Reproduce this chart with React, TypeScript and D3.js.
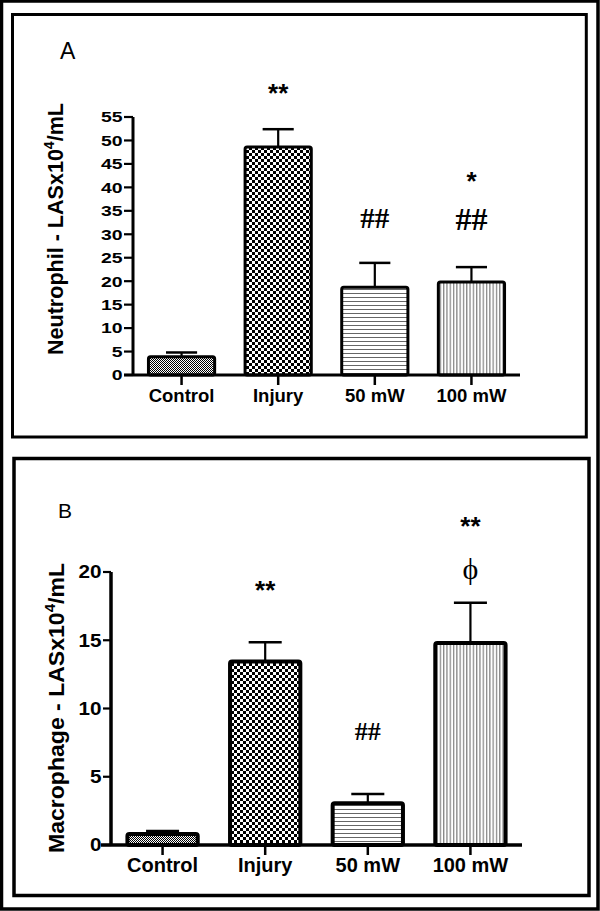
import React from "react";
import * as d3 from "d3";

const categories = ["Control", "Injury", "50 mW", "100 mW"];
const neutrophilMean = [3.9, 48.6, 18.7, 19.8];
const neutrophilSem = [0.9, 3.8, 5.2, 3.2];
const macrophageMean = [0.8, 13.45, 3.05, 14.8];
const macrophageSem = [0.22, 1.4, 0.68, 2.95];
const neutrophilTicks = [0, 5, 10, 15, 20, 25, 30, 35, 40, 45, 50, 55];
const macrophageTicks = [0, 5, 10, 15, 20];
const neutrophilStars = ["", "**", "", "*"];
const neutrophilHashes = ["", "", "##", "##"];
const macrophageStars = ["", "**", "", "**"];
const macrophageHashes = ["", "", "##", ""];
const macrophagePhi = ["", "", "", "\u03D5"];

const patternIds = ["pCtrl", "pInj", "pH", "pV"];

type PanelProps = {
  letter: string;
  letterX: number;
  letterY: number;
  letterSize: number;
  title: string;
  titleX: number;
  titleY: number;
  titleLen: number;
  means: number[];
  sems: number[];
  ticks: number[];
  yMax: number;
  x0: number;
  x1: number;
  yTop: number;
  yBottom: number;
  axisLeftExt: number;
  tickLen: number;
  tickFont: number;
  tickDigitW: number;
  catFont: number;
  catBaseline: number;
  barStroke: number;
  axisStroke: number;
  annotations: { texts: string[]; y: number; font: string; size: number; weight: string }[];
};

function Panel(p: PanelProps) {
  const x = d3.scaleBand<string>().domain(categories).range([p.x0, p.x1]).paddingInner(0.315).paddingOuter(0.16);
  const y = d3.scaleLinear().domain([0, p.yMax]).range([p.yBottom, p.yTop]);
  const bw = x.bandwidth();
  const capW = bw * 0.47;
  return (
    <g>
      <text x={p.letterX} y={p.letterY} fontFamily="Arial, 'Liberation Sans', sans-serif" fontSize={p.letterSize}>
        {p.letter}
      </text>
      <text
        transform={`translate(${p.titleX},${p.titleY}) rotate(-90)`}
        textAnchor="middle"
        fontFamily="Arial, 'Liberation Sans', sans-serif"
        fontWeight="bold"
        fontSize={21.5}
        textLength={p.titleLen}
        lengthAdjust="spacingAndGlyphs"
      >
        {p.title}
        <tspan fontSize={14} dy={-9}>4</tspan>
        <tspan dy={9}>/mL</tspan>
      </text>
      {categories.map((c, i) => {
        const bx = x(c)!;
        const top = y(p.means[i]);
        const et = y(p.means[i] + p.sems[i]);
        const cx = bx + bw / 2;
        return (
          <g key={c}>
            <line x1={cx} x2={cx} y1={top} y2={et} stroke="#000" strokeWidth={2.2} />
            <line x1={cx - capW / 2} x2={cx + capW / 2} y1={et} y2={et} stroke="#000" strokeWidth={2.5} />
            <rect
              x={bx}
              y={top}
              width={bw}
              height={p.yBottom - top}
              fill={`url(#${patternIds[i]})`}
              stroke="#000"
              strokeWidth={p.barStroke}
              rx={2}
            />
          </g>
        );
      })}
      <line x1={p.x0} x2={p.x0} y1={p.yTop} y2={p.yBottom} stroke="#000" strokeWidth={p.axisStroke} />
      {p.ticks.map((t) => (
        <g key={t}>
          <line x1={p.x0 - p.tickLen} x2={p.x0} y1={y(t)} y2={y(t)} stroke="#000" strokeWidth={2.2} />
          <text
            x={p.x0 - p.tickLen - 1.5}
            y={y(t)}
            dy="0.36em"
            textAnchor="end"
            fontFamily="Arial, 'Liberation Sans', sans-serif"
            fontWeight="bold"
            fontSize={p.tickFont}
            textLength={String(t).length * p.tickDigitW}
            lengthAdjust="spacingAndGlyphs"
          >
            {t}
          </text>
        </g>
      ))}
      <line x1={p.x0 - p.axisLeftExt} x2={p.x1} y1={p.yBottom} y2={p.yBottom} stroke="#000" strokeWidth={p.axisStroke} />
      {categories.map((c) => {
        const cx = x(c)! + bw / 2;
        return (
          <g key={c}>
            <line x1={cx} x2={cx} y1={p.yBottom} y2={p.yBottom + 10} stroke="#000" strokeWidth={2.5} />
            <text
              x={cx}
              y={p.catBaseline}
              textAnchor="middle"
              fontFamily="Arial, 'Liberation Sans', sans-serif"
              fontWeight="bold"
              fontSize={p.catFont}
            >
              {c}
            </text>
          </g>
        );
      })}
      {p.annotations.map((a, k) =>
        categories.map((c, i) =>
          a.texts[i] ? (
            <text
              key={`${k}-${i}`}
              x={x(c)! + bw / 2}
              y={a.y}
              textAnchor="middle"
              fontFamily={a.font}
              fontWeight={a.weight}
              fontSize={a.size}
            >
              {a.texts[i]}
            </text>
          ) : null
        )
      )}
    </g>
  );
}

export default function App() {
  const sans = "Arial, 'Liberation Sans', sans-serif";
  const serif = "'Times New Roman', 'Liberation Serif', serif";
  return (
    <svg width={600} height={911} style={{ position: "absolute", left: 0, top: 0, background: "#fff" }}>
      <defs>
        <pattern id="pCtrl" width={2} height={2} patternUnits="userSpaceOnUse">
          <rect width={2} height={2} fill="#fff" />
          <rect width={1} height={1} fill="#000" />
          <rect x={1} y={1} width={1} height={1} fill="#000" />
        </pattern>
        <pattern id="pInj" width={6} height={6} patternUnits="userSpaceOnUse">
          <rect width={6} height={6} fill="#fff" />
          <rect width={3} height={3} fill="#000" />
          <rect x={3} y={3} width={3} height={3} fill="#000" />
        </pattern>
        <pattern id="pH" width={4} height={4} patternUnits="userSpaceOnUse">
          <rect width={4} height={4} fill="#fff" />
          <rect y={1} width={4} height={1} fill="#666" />
        </pattern>
        <pattern id="pV" width={3.3} height={4} patternUnits="userSpaceOnUse">
          <rect width={3.3} height={4} fill="#fff" />
          <rect x={1} width={1} height={4} fill="#666" />
        </pattern>
      </defs>
      <rect x={0} y={0} width={600} height={911} fill="#fff" />
      <rect x={1.5} y={1} width={596.5} height={908} fill="none" stroke="#000" strokeWidth={3.5} />
      <rect x={12.5} y={14.5} width={573.8} height={422.5} fill="none" stroke="#000" strokeWidth={3} />
      <rect x={14} y={458.5} width={575} height={437} fill="none" stroke="#000" strokeWidth={3.5} />
      <Panel
        letter="A"
        letterX={60}
        letterY={59}
        letterSize={23}
        title="Neutrophil - LASx10"
        titleX={63}
        titleY={229}
        titleLen={252}
        means={neutrophilMean}
        sems={neutrophilSem}
        ticks={neutrophilTicks}
        yMax={55}
        x0={133}
        x1={520}
        yTop={117}
        yBottom={375}
        axisLeftExt={9}
        tickLen={9}
        tickFont={15}
        tickDigitW={10.8}
        catFont={18.5}
        catBaseline={402}
        barStroke={3}
        axisStroke={3}
        annotations={[
          { texts: neutrophilStars.map((s, i) => (i === 1 ? s : "")), y: 102, font: sans, size: 26, weight: "bold" },
          { texts: neutrophilStars.map((s, i) => (i === 3 ? s : "")), y: 190, font: sans, size: 26, weight: "bold" },
          { texts: neutrophilHashes.map((s, i) => (i === 2 ? s : "")), y: 228, font: serif, size: 29, weight: "bold" },
          { texts: neutrophilHashes.map((s, i) => (i === 3 ? s : "")), y: 230, font: serif, size: 32, weight: "bold" },
        ]}
      />
      <Panel
        letter="B"
        letterX={58}
        letterY={518}
        letterSize={21}
        title="Macrophage -  LASx10"
        titleX={64}
        titleY={708}
        titleLen={290}
        means={macrophageMean}
        sems={macrophageSem}
        ticks={macrophageTicks}
        yMax={20}
        x0={111}
        x1={522}
        yTop={572}
        yBottom={845}
        axisLeftExt={10}
        tickLen={8}
        tickFont={17.5}
        tickDigitW={11.5}
        catFont={20}
        catBaseline={872}
        barStroke={4}
        axisStroke={3.5}
        annotations={[
          { texts: macrophageStars.map((s, i) => (i === 1 ? s : "")), y: 599, font: sans, size: 26, weight: "bold" },
          { texts: macrophageStars.map((s, i) => (i === 3 ? s : "")), y: 535, font: sans, size: 26, weight: "bold" },
          { texts: macrophageHashes, y: 740, font: serif, size: 26, weight: "bold" },
          { texts: macrophagePhi, y: 579, font: serif, size: 30, weight: "normal" },
        ]}
      />
    </svg>
  );
}
